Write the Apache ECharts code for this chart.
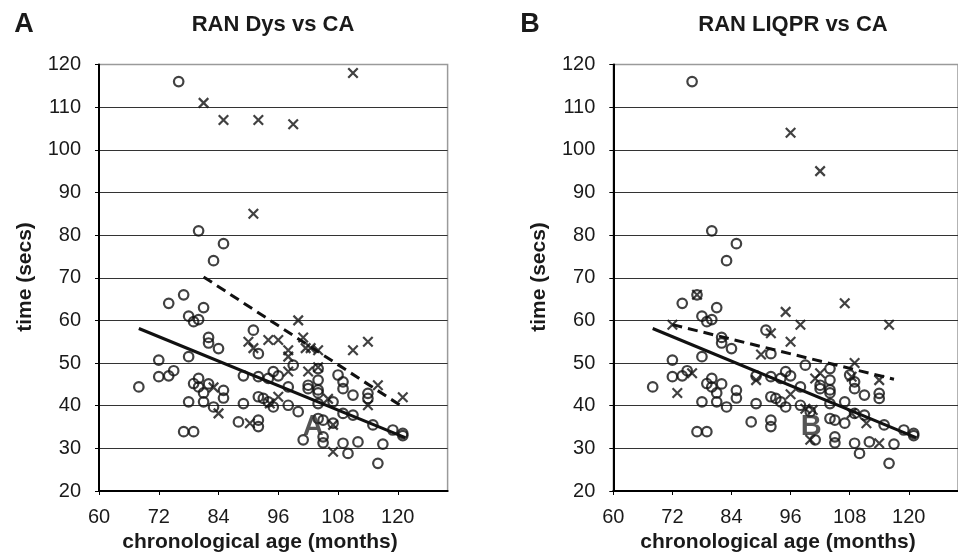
<!DOCTYPE html>
<html><head><meta charset="utf-8">
<script src="https://cdn.jsdelivr.net/npm/echarts@6/dist/echarts.min.js"></script>
<style>html,body{margin:0;padding:0;background:#fff}#c{width:958px;height:554px}</style>
</head><body><div id="c"></div>
<script>
// ---- data ----
const xTicks = [60, 72, 84, 96, 108, 120];
const yMin = 20, yMax = 120, yStep = 10;
const xMin = 60, xMax = 130;

const panelLetters = ['A', 'B'];
const panelTitles = ['RAN Dys vs CA', 'RAN LIQPR vs CA'];
const xTitle = 'chronological age (months)';
const yTitle = 'time (secs)';

// typically developing readers (circles) – identical in both panels
const controlPts = [
  [76,116],[80,81],[85,78],[83,74],[77,66],[74,64],[81,63],[78,61],[79,59.7],[80,60.2],
  [82,56],[82,54.7],[84,53.4],[78,51.5],[72,50.7],[72,46.8],[74,47],[75,48.2],[68,44.4],
  [80,46.4],[79,45.2],[80,44.4],[82,45.1],[81,43],[85,43.6],[85,41.8],[78,40.9],[81,40.9],
  [83,39.7],[77,33.9],[79,33.9],[89,40.5],[88,36.2],[89,47],[91,57.7],[92,52.2],[92,46.8],
  [94,46.4],[95,48],[96,47],[92,42.1],[93,41.7],[94,40.9],[95,39.7],[92,36.6],[92,35.1],
  [98,44.4],[98,40.1],[99,49.5],[100,38.6],[101,32],[102,44.8],[102,44],[104,48.7],[104,46],
  [104,43.7],[104,43],[104,40.5],[104,37],[105,36.6],[105,32.7],[105,31.3],[107,40.9],
  [107,35.9],[108,47.2],[109,45.6],[109,44],[109,38.2],[111,37.8],[111,42.5],[109,31.2],
  [110,28.8],[112,31.5],[114,42.9],[114,41.7],[115,35.5],[116,26.5],[117,31],[119,34.3],
  [121,33.5],[121,33]
];
// dyslexic readers, panel A (crosses)
const dysPtsA = [
  [81,111],[85,107],[92,107],[99,106],[111,118],[91,85],[100,60],[101,56],[90,55],[91,53.5],
  [94,55.4],[96,55.4],[98,53],[98,51.5],[101.5,53.5],[102.5,53.5],[104,53],[111,53],[114,55],
  [98,48],[102,48],[104,49],[83,44.3],[84,38.2],[90.3,35.9],[94.3,40.5],[96,42.1],[106,41.6],
  [107,35.5],[107,29.2],[114,40.1],[116,44.8],[121,42]
];
// dyslexic readers, panel B (crosses)
const dysPtsB = [
  [77,66],[96,104],[102,95],[72,59],[76,47.6],[73,43],[95,62],[98,59],[107,64],[116,59],
  [96,55],[92,57],[90,52],[109,50],[102,47.6],[101,46.4],[114,46],[108.4,46.8],[89,46],
  [96,42.7],[100.5,39],[99,39.3],[111.4,35.9],[114,31.2],[100,32],[108.4,38.2]
];
// regression lines (end points)
const fitControl = [[68,58.1],[121.5,32.5]];
const fitDysA = [[81,70.2],[121,39.7]];
const fitDysB = [[72,59],[117,46.2]];
const letterPos = [[103,35],[100.2,35]];

// ---- chart ----
const FONT = '"Liberation Sans", Arial, sans-serif';
const INK = '#1a1a1a';
const grids = [
  {left: 99, top: 64.5, width: 348.6, height: 426.5},
  {left: 613.3, top: 64.5, width: 354.2, height: 426.5}
];

function xAxis(i) {
  return {
    type: 'value', gridIndex: i, min: xMin, max: xMax, interval: 12,
    axisLine: {show: true, onZero: false, lineStyle: {color: '#000', width: 2}},
    axisTick: {show: true, length: 4, customValues: xTicks, lineStyle: {color: '#000', width: 1}},
    axisLabel: {customValues: xTicks, margin: 16, fontFamily: FONT, fontSize: 20, color: INK},
    splitLine: {show: false}
  };
}
function yAxis(i) {
  return {
    type: 'value', gridIndex: i, min: yMin, max: yMax, interval: yStep,
    axisLine: {show: true, onZero: false, lineStyle: {color: '#000', width: 2}},
    axisTick: {show: true, length: 4, lineStyle: {color: '#000', width: 1}},
    axisLabel: {margin: 18, fontFamily: FONT, fontSize: 20, color: INK},
    splitLine: {show: true, showMinLine: false, showMaxLine: false, lineStyle: {color: '#333', width: 1}}
  };
}
const crossSym = 'path://M0,0L10,10M10,0L0,10';
function circles(i) {
  return {type: 'scatter', xAxisIndex: i, yAxisIndex: i, data: controlPts, symbol: 'circle', symbolSize: 9.5,
    itemStyle: {color: 'rgba(255,255,255,0)', borderColor: '#111', borderWidth: 2.2}, z: 3};
}
function crosses(i, pts) {
  return {type: 'scatter', xAxisIndex: i, yAxisIndex: i, data: pts, symbol: crossSym, symbolSize: 9.5,
    itemStyle: {color: '#111', borderColor: '#111', borderWidth: 2.2}, z: 3};
}
function fit(i, pts, dashed) {
  return {type: 'line', xAxisIndex: i, yAxisIndex: i, data: pts, symbol: 'none', z: 4,
    lineStyle: {color: '#111', width: 3, type: dashed ? [10, 6] : 'solid'}};
}
function letter(i) {
  return {type: 'scatter', xAxisIndex: i, yAxisIndex: i, data: [letterPos[i]], symbolSize: 1,
    itemStyle: {color: 'rgba(0,0,0,0)'}, z: 5,
    label: {show: true, position: 'inside', formatter: panelLetters[i], fontFamily: FONT,
      fontSize: 29, fontWeight: 'bold', color: '#2a2a2a'}};
}

const txt = (x, y, text, size, rot) => ({
  type: 'text', x: x, y: y, rotation: rot || 0,
  style: {text: text, font: 'bold ' + size + 'px ' + FONT, fill: INK, align: 'center', verticalAlign: 'middle'}
});

const option = {
  animation: false,
  backgroundColor: '#fff',
  grid: grids.map(g => Object.assign({show: true, borderColor: '#9a9a9a', borderWidth: 1.5, backgroundColor: 'transparent'}, g)),
  xAxis: [xAxis(0), xAxis(1)],
  yAxis: [yAxis(0), yAxis(1)],
  series: [
    circles(0), crosses(0, dysPtsA), fit(0, fitControl, false), fit(0, fitDysA, true), letter(0),
    circles(1), crosses(1, dysPtsB), fit(1, fitControl, false), fit(1, fitDysB, true), letter(1)
  ],
  graphic: [
    txt(24, 25, panelLetters[0], 27),
    txt(273, 25, panelTitles[0], 22),
    txt(530, 25, panelLetters[1], 27),
    txt(793, 25, panelTitles[1], 22),
    txt(25, 277, yTitle, 21, Math.PI / 2),
    txt(539, 277, yTitle, 21, Math.PI / 2),
    txt(260, 542, xTitle, 21),
    txt(778, 542, xTitle, 21)
  ]
};
const chart = echarts.init(document.getElementById('c'), null, {renderer: 'canvas'});
chart.setOption(option);
</script>
</body></html>
